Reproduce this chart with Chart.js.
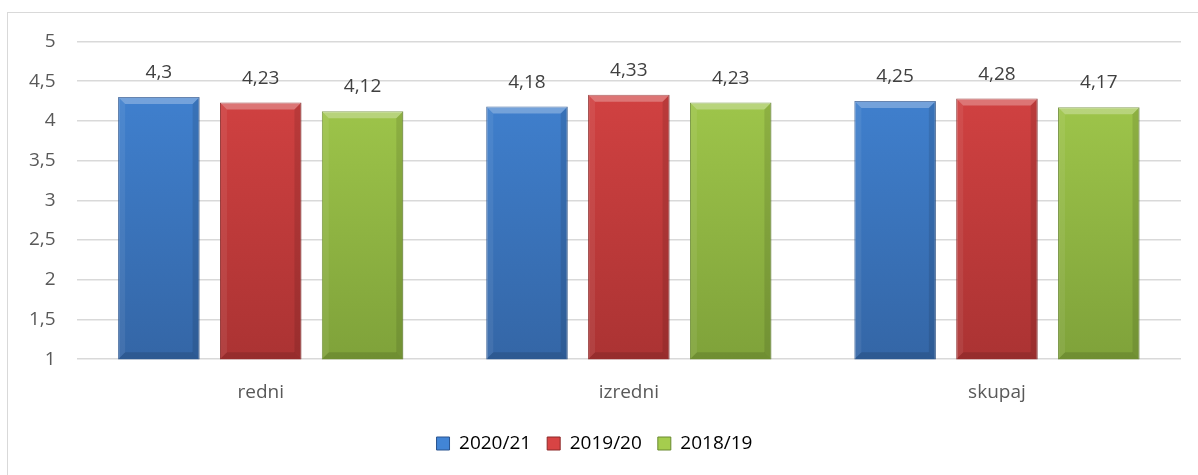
<!DOCTYPE html>
<html>
<head>
<meta charset="utf-8">
<script src="https://cdn.jsdelivr.net/npm/chart.js@4"></script>
<style>
  html, body { margin: 0; padding: 0; background: #fff; }
  #wrap {
    position: absolute; left: 7px; top: 12px;
    width: 1196px; height: 470px;
    border: 1px solid #d9d9d9;
  }
  #inner {
    position: absolute; left: 0; top: -4px;
    width: 1196px; height: 474px;
  }
</style>
</head>
<body>
<div id="wrap"><div id="inner"><canvas id="chart"></canvas></div></div>
<script>
// categories and series
const categories = ['redni', 'izredni', 'skupaj'];
const seriesLabels = ['2020/21', '2019/20', '2018/19'];
const values2021 = [4.3, 4.18, 4.25];
const values1920 = [4.23, 4.33, 4.28];
const values1819 = [4.12, 4.23, 4.17];

// top / bottom colours for each series
const palette = [
    { top: '#4285d6', bottom: '#3466a6', edge: '#2b5590' },
    { top: '#d84444', bottom: '#ab3333', edge: '#8c2828' },
    { top: '#a5cd4e', bottom: '#7fa23a', edge: '#6a8a30' }
];

const FONT = '"Open Sans", sans-serif';
const fmt = v => String(v).replace('.', ',');

function barGradient(context, i) {
    const chart = context.chart;
    const area = chart.chartArea;
    if (!area) return palette[i].top;
    const g = chart.ctx.createLinearGradient(0, area.top, 0, area.bottom);
    g.addColorStop(0, palette[i].top);
    g.addColorStop(1, palette[i].bottom);
    return g;
}

// little bevel on each bar plus value labels
const bevelAndLabels = {
    id: 'bevelAndLabels',
    afterDatasetsDraw(chart) {
        const ctx = chart.ctx;
        const bottom = chart.chartArea.bottom;
        chart.data.datasets.forEach((ds, di) => {
            const meta = chart.getDatasetMeta(di);
            meta.data.forEach((bar, i) => {
                const w = bar.width;
                const x0 = bar.x - w / 2, x1 = bar.x + w / 2;
                const y0 = bar.y, y1 = bottom;
                const b = 7;
                ctx.save();
                // top highlight
                ctx.fillStyle = 'rgba(255,255,255,0.28)';
                ctx.beginPath();
                ctx.moveTo(x0, y0); ctx.lineTo(x1, y0);
                ctx.lineTo(x1 - b, y0 + b); ctx.lineTo(x0 + b, y0 + b);
                ctx.closePath(); ctx.fill();
                // left side
                ctx.fillStyle = 'rgba(255,255,255,0.07)';
                ctx.beginPath();
                ctx.moveTo(x0, y0); ctx.lineTo(x0 + b, y0 + b);
                ctx.lineTo(x0 + b, y1 - b); ctx.lineTo(x0, y1);
                ctx.closePath(); ctx.fill();
                // right side
                ctx.fillStyle = 'rgba(0,0,0,0.10)';
                ctx.beginPath();
                ctx.moveTo(x1, y0); ctx.lineTo(x1 - b, y0 + b);
                ctx.lineTo(x1 - b, y1 - b); ctx.lineTo(x1, y1);
                ctx.closePath(); ctx.fill();
                // bottom
                ctx.fillStyle = 'rgba(0,0,0,0.12)';
                ctx.beginPath();
                ctx.moveTo(x0, y1); ctx.lineTo(x0 + b, y1 - b);
                ctx.lineTo(x1 - b, y1 - b); ctx.lineTo(x1, y1);
                ctx.closePath(); ctx.fill();
                ctx.restore();

                // value label
                ctx.save();
                ctx.fillStyle = '#404040';
                ctx.font = '19px ' + FONT;
                ctx.textAlign = 'center';
                ctx.textBaseline = 'alphabetic';
                ctx.fillText(fmt(ds.data[i]), bar.x, bar.y - 19);
                ctx.restore();
            });
        });
    }
};

const allSeries = [values2021, values1920, values1819];

new Chart(document.getElementById('chart'), {
    type: 'bar',
    data: {
        labels: categories,
        datasets: allSeries.map((vals, i) => ({
            label: seriesLabels[i],
            data: vals,
            backgroundColor: ctx => barGradient(ctx, i),
            borderColor: palette[i].edge,
            borderWidth: 1,
            barPercentage: 0.8,
            categoryPercentage: 0.83
        }))
    },
    options: {
        responsive: true,
        maintainAspectRatio: false,
        animation: false,
        layout: { padding: { left: 0, right: 23, top: 0, bottom: 20 } },
        plugins: {
            tooltip: { enabled: false },
            legend: {
                position: 'bottom',
                labels: {
                    color: '#595959',
                    font: { family: FONT, size: 19 },
                    boxWidth: 13,
                    boxHeight: 13,
                    padding: 16,
                    generateLabels: chart => seriesLabels.map((l, i) => ({
                        text: l,
                        fillStyle: palette[i].top,
                        strokeStyle: palette[i].edge,
                        lineWidth: 1,
                        datasetIndex: i
                    }))
                }
            }
        },
        scales: {
            x: {
                grid: { display: false },
                border: { display: false },
                ticks: {
                    color: '#595959',
                    font: { family: FONT, size: 19 },
                    padding: 14
                }
            },
            y: {
                min: 1,
                max: 5,
                border: { display: false },
                grid: { color: '#d9d9d9', lineWidth: 1.5, drawTicks: false },
                ticks: {
                    stepSize: 0.5,
                    color: '#595959',
                    padding: 21,
                    font: { family: FONT, size: 19 },
                    callback: v => fmt(v)
                }
            }
        }
    },
    plugins: [bevelAndLabels]
});
</script>
</body>
</html>
